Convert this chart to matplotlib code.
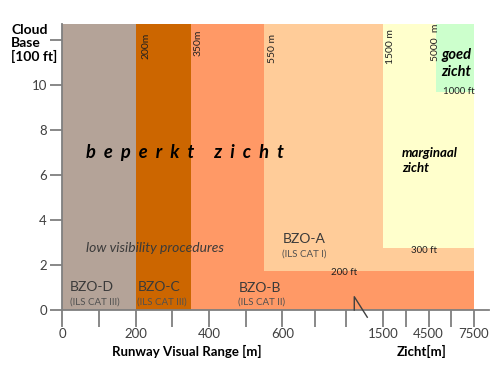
import matplotlib
matplotlib.use("Agg")
import matplotlib.pyplot as plt
import numpy as np

plt.rcParams["font.family"] = ["Lato", "DejaVu Sans"]

# zones: x in metres, y in 100 ft (drawn in layers, later ones on top)
zone_names = ["BZO-B", "BZO-A", "marginaal", "goed", "BZO-D", "BZO-C"]
zone_x0 = [350, 550, 1500, 5000, 0, 200]
zone_x1 = [7500, 7500, 7500, 7500, 200, 350]
zone_y0 = [0, 1.75, 2.75, 9.7, 0, 0]
zone_colors = ["#ff9966", "#ffcc99", "#ffffcc", "#ccffcc", "#b4a398", "#cc6600"]
Y_TOP = 12.7

# broken x axis: metres -> position (piecewise linear)
knot_m = [-1000, 0, 600, 700, 800, 1500, 9000]
knot_p = [-366.7, 0, 220, 252.7, 283.4, 320.7, 434.45]

x_ticks = [0, 100, 200, 300, 400, 500, 600, 700, 800, 1500, 3000, 4500, 6000, 7500]
x_ticklabels = ["0", "", "200", "", "400", "", "600", "", "", "1500", "", "4500", "", "7500"]
y_ticks = [0, 2, 4, 6, 8, 10, 12]
y_ticklabels = ["0", "2", "4", "6", "8", "10", ""]


def fwd(m):
    return np.interp(m, knot_m, knot_p)


def inv(p):
    return np.interp(p, knot_p, knot_m)


fig = plt.figure(figsize=(5, 3.66), dpi=100)
ax = fig.add_axes([62.3 / 500, 56 / 366, 426.7 / 500, 286 / 366])
ax.set_xscale("function", functions=(fwd, inv))
ax.set_xlim(0, 8489)
ax.set_ylim(0, Y_TOP)

for x0, x1, y0, c in zip(zone_x0, zone_x1, zone_y0, zone_colors):
    ax.fill_between([x0, x1], y0, Y_TOP, color=c, lw=0, zorder=1)

for s in ["top", "right"]:
    ax.spines[s].set_visible(False)
for s in ["left", "bottom"]:
    ax.spines[s].set_color("#7f7f7f")
    ax.spines[s].set_linewidth(1.3)
    ax.spines[s].set_zorder(3)

ax.set_xticks(x_ticks)
ax.set_xticklabels(x_ticklabels)
ax.set_yticks(y_ticks)
ax.set_yticklabels(y_ticklabels)
ax.xaxis.set_minor_locator(plt.NullLocator())
ax.tick_params(axis="x", direction="out", length=12, width=1.3, color="#7f7f7f",
               labelsize=9.5, labelcolor="#404040", pad=1)
ax.tick_params(axis="y", direction="out", length=9, width=1.3, color="#7f7f7f",
               labelsize=9.5, labelcolor="#404040", pad=2)

# break mark on the x axis
ax.plot([961, 961, 1205], [0, 0.59, -0.32], color="#404040", lw=1,
        clip_on=False, zorder=4)

dark = "#3a3a3a"
# vertical distance labels
for x, y, s in [(228, 11.75, "200m"), (370, 11.85, "350m"), (572, 11.6, "550 m"),
                (2027, 11.68, "1500 m"), (4950, 11.9, "5000  m")]:
    ax.text(x, y, s, rotation=90, ha="center", va="center", fontsize=7.5, color="#202020")

ax.text(65, 7.0, "b  e  p  e  r  k  t     z  i  c  h  t", fontsize=13.2, fontweight="bold",
        fontstyle="italic", ha="left", va="center", color="black")
ax.text(65, 2.75, "low visibility procedures", fontsize=10, fontstyle="italic",
        ha="left", va="center", color=dark)
ax.text(2750, 6.66, "marginaal\nzicht", fontsize=9.5, fontweight="bold",
        fontstyle="italic", ha="left", va="center", color="black", linespacing=1.3)
ax.text(6313, 10.95, "goed\nzicht", fontsize=10.5, fontweight="bold", fontstyle="italic",
        ha="center", va="center", color="black", linespacing=1.2)

for x, y, s in [(6510, 9.7, "1000 ft"), (4200, 2.65, "300 ft"), (794, 1.68, "200 ft")]:
    ax.text(x, y, s, ha="center", va="center", fontsize=7, color="#202020")

for x, y1, y2, name, sub in [(20, 1.0, 0.35, "BZO-D", "(ILS CAT III)"),
                             (205, 1.0, 0.35, "BZO-C", "(ILS CAT III)"),
                             (480, 0.97, 0.35, "BZO-B", "(ILS CAT II)"),
                             (600, 3.15, 2.5, "BZO-A", "(ILS CAT I)")]:
    ax.text(x, y1, name, ha="left", va="center", fontsize=10, color=dark)
    ax.text(x, y2, sub, ha="left", va="center", fontsize=7, color="#505050")

fig.text(11 / 500, 1 - 24 / 366, "Cloud\nBase\n[100 ft]", ha="left", va="top",
         fontsize=10, fontweight="bold", color="black", linespacing=1.1)
fig.text(187 / 500, 1 - 351 / 366, "Runway Visual Range [m]", ha="center", va="center",
         fontsize=9.5, fontweight="bold", color="black")
fig.text(422 / 500, 1 - 351 / 366, "Zicht[m]", ha="center", va="center",
         fontsize=9.5, fontweight="bold", color="black")

fig.savefig("out.png", dpi=100)
